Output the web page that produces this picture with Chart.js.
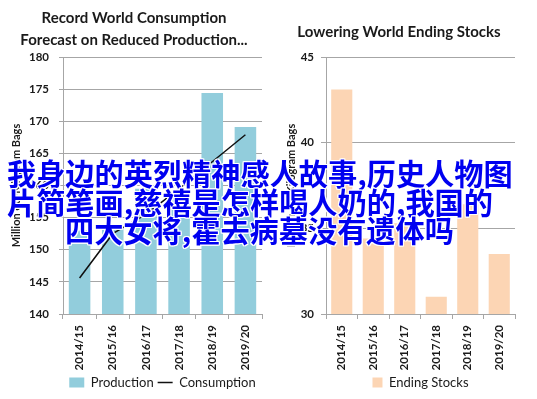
<!DOCTYPE html>
<html>
<head>
<meta charset="utf-8">
<script src="https://cdn.jsdelivr.net/npm/chart.js@4.4.1/dist/chart.umd.min.js"></script>
<style>
  body { margin: 0; background: #fff; }
  #wrap { position: relative; width: 537px; height: 399px; overflow: hidden; }
  .box { position: absolute; top: 0; height: 399px; }
  #leftBox { left: 0; width: 268px; }
  #rightBox { left: 268px; width: 269px; }
  .cap {
    position: absolute;
    font-family: "Noto Sans CJK SC";
    font-weight: bold;
    font-size: 29.2px;
    line-height: 28.5px;
    color: #0000f0;
    white-space: nowrap;
    text-shadow: -1px -1px 0 #fff, 1px -1px 0 #fff, -1px 1px 0 #fff, 1px 1px 0 #fff,
                 0 -1px 0 #fff, 0 1px 0 #fff, -1px 0 0 #fff, 1px 0 0 #fff;
  }
</style>
</head>
<body>
<div id="wrap">
  <div class="box" id="leftBox"><canvas id="left"></canvas></div>
  <div class="box" id="rightBox"><canvas id="right"></canvas></div>
  <div class="cap" style="left:7px; top:158px;">我身边的英烈精神感人故事,历史人物图</div>
  <div class="cap" style="left:7px; top:186.5px;">片简笔画,慈禧是怎样喝人奶的,我国的</div>
  <div class="cap" style="left:65px; top:215px;">四大女将,霍去病墓没有遗体吗</div>
</div>
<script>
'use strict';

const seasons = ['2014/15', '2015/16', '2016/17', '2017/18', '2018/19', '2019/20'];
const production = [153.0, 153.2, 159.5, 159.0, 174.4, 169.1];
const consumption = [145.6, 152.5, 155.5, 159.5, 163.7, 167.9];
const endingStocks = [43.1, 34.4, 35.3, 31.0, 36.4, 33.5];

const ink = '#1a1a1a';
const gridColor = '#a6a6a6';
const tickFont = { family: 'Lato', size: 11.5, weight: 'bold' };
const axisTitleFont = { family: 'Lato', size: 11, weight: 'bold' };
const titleFont = { family: 'Lato', size: 15, weight: 'bold', lineHeight: '22px' };
const legendFont = { family: 'Lato', size: 13 };

Chart.defaults.animation = false;

// legend sits under the plot area, titles over the whole panel
const centerBoxes = {
    id: 'centerBoxes',
    beforeDraw(chart, args, opts) {
        const ca = chart.chartArea;
        const lg = chart.legend;
        if (lg) {
            const w = lg.right - lg.left;
            const cx = (ca.left + ca.right) / 2;
            lg.left = cx - w / 2;
            lg.right = cx + w / 2;
        }
        const t = chart.titleBlock;
        if (t) {
            t.left = 0;
            t.right = chart.width - (opts.titleInset || 0);
        }
    }
};

function xScale() {
    return {
        grid: { drawOnChartArea: false, offset: true, tickLength: 5, color: gridColor },
        border: { color: gridColor },
        ticks: { minRotation: 90, maxRotation: 90, padding: 6, color: ink, font: tickFont },
        afterFit: function (s) { s.height = 58; }
    };
}

new Chart(document.getElementById('left'), {
    data: {
        labels: seasons,
        datasets: [
            {
                type: 'bar',
                label: 'Production',
                data: production,
                backgroundColor: '#92cddc',
                borderWidth: 0,
                categoryPercentage: 1,
                barPercentage: 0.65,
                pointStyle: 'rect',
                order: 1
            },
            {
                type: 'line',
                label: 'Consumption',
                data: consumption,
                borderColor: '#111111',
                backgroundColor: '#111111',
                borderWidth: 1.5,
                pointRadius: 0,
                tension: 0,
                pointStyle: 'line',
                order: 0
            }
        ]
    },
    plugins: [centerBoxes],
    options: {
        responsive: true,
        maintainAspectRatio: false,
        layout: { padding: { left: 0, right: 6, top: 0, bottom: 0 } },
        plugins: {
            centerBoxes: { titleInset: 0 },
            title: {
                display: true,
                text: ['Record World Consumption', 'Forecast on Reduced Production...'],
                color: ink,
                font: titleFont,
                padding: { top: 7, bottom: 6 }
            },
            legend: {
                position: 'bottom',
                labels: {
                    usePointStyle: true,
                    pointStyleWidth: 15,
                    boxHeight: 10,
                    padding: 4,
                    color: ink,
                    font: legendFont,
                    sort: (a, b) => a.datasetIndex - b.datasetIndex
                }
            },
            tooltip: { enabled: false }
        },
        scales: {
            x: xScale(),
            y: {
                min: 140,
                max: 180,
                ticks: { stepSize: 5, padding: 10, color: ink, font: tickFont },
                grid: { color: gridColor, tickLength: 4 },
                border: { color: gridColor },
                title: {
                    display: true,
                    text: 'Million 60-Kilogram Bags',
                    color: ink,
                    font: axisTitleFont,
                    padding: { top: 10, bottom: 0 }
                },
                afterFit: function (s) { s.width = 63; }
            }
        }
    }
});

new Chart(document.getElementById('right'), {
    type: 'bar',
    data: {
        labels: seasons,
        datasets: [
            {
                label: 'Ending Stocks',
                data: endingStocks,
                backgroundColor: '#fcd5b4',
                borderWidth: 0,
                categoryPercentage: 1,
                barPercentage: 0.67
            }
        ]
    },
    plugins: [centerBoxes],
    options: {
        responsive: true,
        maintainAspectRatio: false,
        layout: { padding: { left: 0, right: 22, top: 0, bottom: 0 } },
        plugins: {
            centerBoxes: { titleInset: 7 },
            title: {
                display: true,
                text: 'Lowering World Ending Stocks',
                color: ink,
                font: titleFont,
                padding: { top: 21, bottom: 14 }
            },
            legend: {
                position: 'bottom',
                labels: {
                    boxWidth: 10,
                    boxHeight: 10,
                    padding: 4,
                    color: ink,
                    font: legendFont
                }
            },
            tooltip: { enabled: false }
        },
        scales: {
            x: xScale(),
            y: {
                min: 30,
                max: 45,
                ticks: { stepSize: 5, padding: 7, color: ink, font: tickFont },
                grid: { color: gridColor, tickLength: 5 },
                border: { color: gridColor },
                title: {
                    display: true,
                    text: 'Million 60-Kilogram Bags',
                    color: ink,
                    font: axisTitleFont,
                    padding: { top: 17, bottom: 0 }
                },
                afterFit: function (s) { s.width = 58; }
            }
        }
    }
});
</script>
</body>
</html>
